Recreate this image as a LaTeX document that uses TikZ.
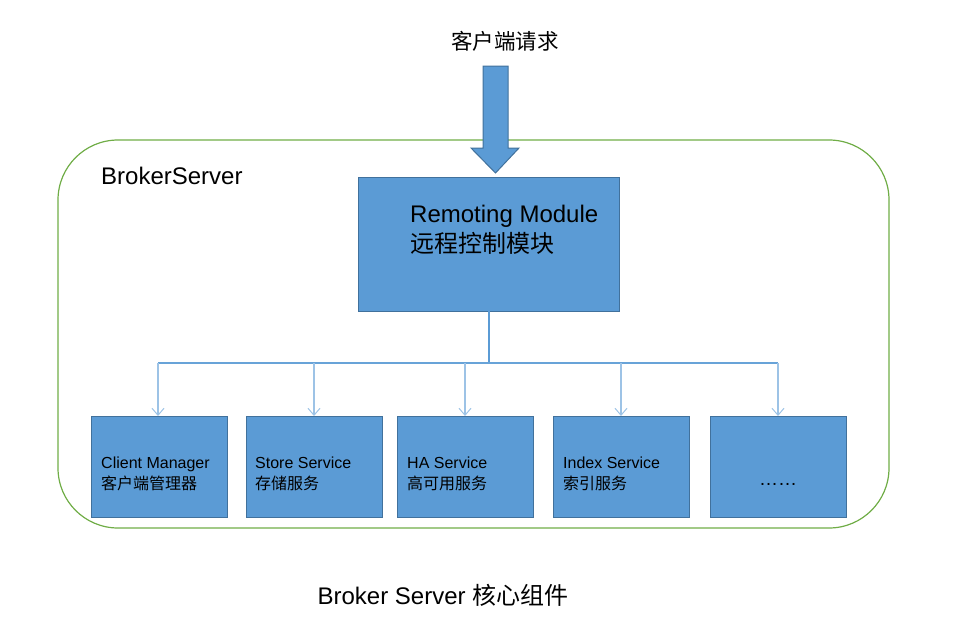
\documentclass[tikz,border=0pt]{standalone}
\usepackage{fontspec}
\setmainfont{Liberation Sans}
\newfontfamily\cjk{Noto Sans CJK SC}
\usetikzlibrary{arrows.meta}
\definecolor{boxfill}{HTML}{5B9BD5}
\definecolor{boxline}{HTML}{41719C}
\definecolor{grn}{HTML}{70AD47}
\definecolor{lightln}{HTML}{9DC3E6}
\tikzset{
  modbox/.style={draw=boxline, fill=boxfill, line width=1pt},
  small/.style={font=\fontsize{16}{19}\selectfont, anchor=north west, align=left, inner sep=0pt},
  branch/.style={draw=lightln, line width=1.2pt, -{Straight Barb[length=7pt,width=12pt,line width=1pt]}},
}
\begin{document}
\begin{tikzpicture}[x=1pt,y=-1pt]
\useasboundingbox (0,0) rectangle (967,637);
% container
\draw[grn, line width=1.2pt, rounded corners=60pt] (58,140) rectangle (889,528);
\node[anchor=west, inner sep=0pt, font=\fontsize{24}{28}\selectfont] (bs) at (101,176) {BrokerServer};
% title top
\node[inner sep=0pt, font=\fontsize{21.5}{26}\selectfont\cjk] (req) at (505,41) {客户端请求};
% big arrow
\draw[boxline, fill=boxfill, line width=1pt] (483,66) -- (508,66) -- (508,148) -- (519,148) -- (495.5,173) -- (471,148) -- (483,148) -- cycle;
% remoting module
\draw[modbox] (358,177) rectangle (619,311);
\node[anchor=north west, align=left, inner sep=0pt, font=\fontsize{24}{30}\selectfont] (rm) at (410,205) {Remoting Module\\{\cjk 远程控制模块}};
\coordinate (rmb) at (489,311);
\coordinate (hub) at (489,363);
% sub boxes
\foreach \i/\x in {1/91,2/246,3/397,4/553,5/710}{
  \draw[modbox] (\x,416) rectangle ++(136,101);
  \coordinate (t\i) at ({\x+68},416);
}
\node[small] (c1) at (101,457) {Client Manager\\[2pt]{\cjk 客户端管理器}};
\node[small] (c2) at (255,457) {Store Service\\[2pt]{\cjk 存储服务}};
\node[small] (c3) at (407,457) {HA Service\\[2pt]{\cjk 高可用服务}};
\node[small] (c4) at (563,457) {Index Service\\[2pt]{\cjk 索引服务}};
\node[inner sep=0pt, font=\fontsize{19}{22}\selectfont] (c5) at (778,484) {……};
% connectors
\draw[boxfill, line width=1.5pt] (rmb) -- (hub);
\draw[boxfill!80!lightln, line width=1.2pt] (158,363) -- (778,363);
\foreach \i/\x in {1/158,2/314,3/465,4/621,5/778}{
  \draw[branch] (\x,363) -- (\x,416);
}
% caption
\node[inner sep=0pt, font=\fontsize{24}{28}\selectfont] (cap) at (443,595) {Broker Server {\cjk 核心组件}};
\end{tikzpicture}
\end{document}
